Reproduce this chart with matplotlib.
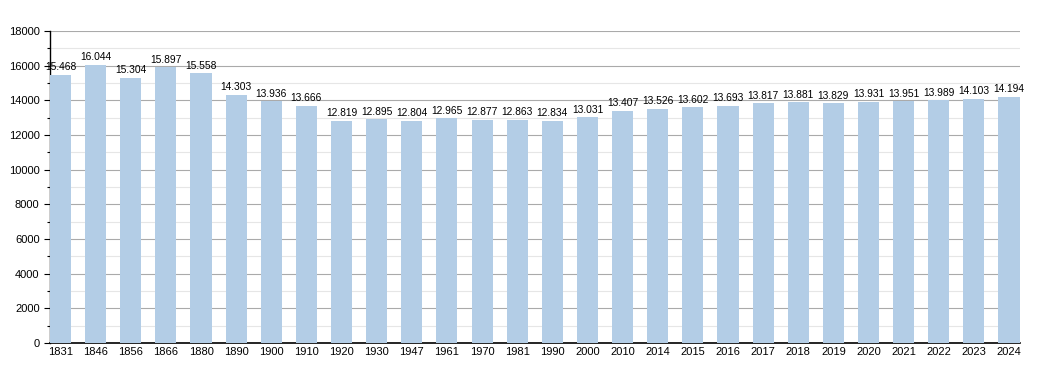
import numpy as np
import matplotlib.pyplot as plt
from matplotlib.ticker import MultipleLocator

plt.rcParams['font.family'] = ['Liberation Sans', 'DejaVu Sans']

# Datos
anni = ["1831", "1846", "1856", "1866", "1880", "1890", "1900", "1910", "1920", "1930",
        "1947", "1961", "1970", "1981", "1990", "2000", "2010", "2014", "2015", "2016",
        "2017", "2018", "2019", "2020", "2021", "2022", "2023", "2024"]
abitanti = [15468, 16044, 15304, 15897, 15558, 14303, 13936, 13666, 12819, 12895,
            12804, 12965, 12877, 12863, 12834, 13031, 13407, 13526, 13602, 13693,
            13817, 13881, 13829, 13931, 13951, 13989, 14103, 14194]

fig = plt.figure(figsize=(10.5, 3.73), dpi=100)
ax = fig.add_axes([0.0476, 0.0804, 0.9234, 0.8366])

x = np.arange(len(anni))
ax.bar(x, abitanti, width=0.6, color='#b3cde6', zorder=3)

for xi, v in zip(x, abitanti):
    etiqueta = f"{v:,}".replace(",", ".")
    ax.text(xi, v + 150, etiqueta, ha='center', va='bottom', fontsize=7.4, zorder=4)

ax.set_xlim(-0.3, len(anni) - 0.7)
ax.set_ylim(0, 18000)
ax.set_xticks(x)
ax.set_xticklabels(anni, fontsize=8)
ax.yaxis.set_major_locator(MultipleLocator(2000))
ax.yaxis.set_minor_locator(MultipleLocator(1000))
ax.tick_params(axis='y', labelsize=8, length=4, width=0.8)
ax.tick_params(axis='y', which='minor', length=2, width=0.8)
ax.tick_params(axis='x', length=0, pad=3)

ax.grid(axis='y', which='major', color='#aaaaaa', linewidth=0.8, zorder=0)
ax.grid(axis='y', which='minor', color='#e6e6e6', linewidth=0.8, zorder=0)
for lado in ['top', 'right']:
    ax.spines[lado].set_visible(False)
ax.spines['left'].set_linewidth(1)
ax.spines['bottom'].set_linewidth(1.2)

plt.savefig('out.png', dpi=100)
